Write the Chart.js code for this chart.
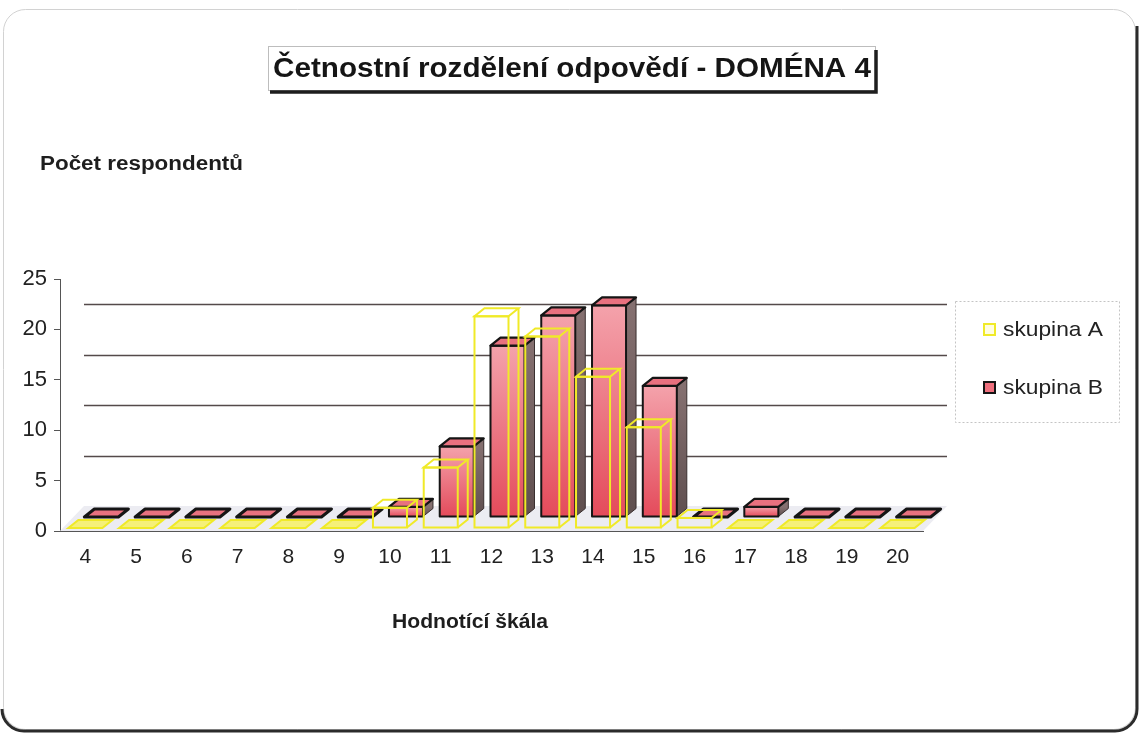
<!DOCTYPE html>
<html>
<head>
<meta charset="utf-8">
<script src="https://cdn.jsdelivr.net/npm/chart.js@4.4.1/dist/chart.umd.min.js"></script>
<style>
  html, body { margin: 0; padding: 0; background: #fff; overflow: hidden; }
  canvas { display: block; }
</style>
</head>
<body>
<canvas id="chart" width="1141" height="734"></canvas>
<script>
// Score categories on the rating scale
const categories = ['4', '5', '6', '7', '8', '9', '10', '11', '12', '13', '14', '15', '16', '17', '18', '19', '20'];
// Number of respondents per score
const skupinaA = [0, 0, 0, 0, 0, 0, 2, 6, 21, 19, 15, 10, 1, 0, 0, 0, 0];
const skupinaB = [0, 0, 0, 0, 0, 0, 1, 7, 17, 20, 21, 13, 0, 1, 0, 0, 0];
const yTicks = [0, 5, 10, 15, 20, 25];
const seriesNames = ['skupina A', 'skupina B'];
const titleText = 'Četnostní rozdělení odpovědí - DOMÉNA 4';
const yTitleText = 'Počet respondentů';
const xTitleText = 'Hodnotící škála';

const FONT = '"Liberation Sans", Arial, Helvetica, sans-serif';

// Draws text squeezed/stretched horizontally to a given width
function fitText(ctx, text, x, y, font, width, align, color) {
  ctx.save();
  ctx.font = font;
  ctx.fillStyle = color;
  ctx.textBaseline = 'middle';
  ctx.textAlign = 'left';
  const w = ctx.measureText(text).width;
  const s = width / w;
  const left = align === 'center' ? x - width / 2 : x;
  ctx.translate(left, y);
  ctx.scale(s, 1);
  ctx.fillText(text, 0, 0);
  ctx.restore();
}

function poly(ctx, pts) {
  ctx.beginPath();
  ctx.moveTo(pts[0][0], pts[0][1]);
  for (let i = 1; i < pts.length; i++) ctx.lineTo(pts[i][0], pts[i][1]);
  ctx.closePath();
}

// Pseudo-3D columns: floor, back-wall gridlines, solid and wireframe boxes
const bars3d = {
  id: 'bars3d',
  beforeDatasetsDraw(chart, args, o) {
    const { ctx, chartArea: a, scales: { y } } = chart;
    const y0 = y.getPixelForValue(0);
    const W = o.wall, D = o.depth;
    ctx.save();

    // floor
    ctx.fillStyle = o.floorColor;
    poly(ctx, [[a.left, y0], [a.right, y0], [a.right + W.dx, y0 + W.dy], [a.left + W.dx, y0 + W.dy]]);
    ctx.fill();

    // gridlines on the back wall
    ctx.strokeStyle = o.gridColor;
    ctx.lineWidth = 1.4;
    y.ticks.forEach(t => {
      if (t.value <= 0 || t.value >= y.max) return;
      const py = Math.round(y.getPixelForValue(t.value) + W.dy) + 0.5;
      ctx.beginPath();
      ctx.moveTo(a.left + W.dx, py);
      ctx.lineTo(a.right + W.dx, py);
      ctx.stroke();
    });

    // back row first, then the front row
    for (let di = chart.data.datasets.length - 1; di >= 0; di--) {
      const meta = chart.getDatasetMeta(di);
      const ds = chart.data.datasets[di];
      const row = o.rows[di];
      meta.data.forEach((el, j) => {
        const v = ds.data[j];
        const w = el.width;
        const x0 = el.x - w / 2 + row.dx;
        const x1 = x0 + w;
        const yb = el.base + row.dy;
        const yt = el.y + row.dy;
        const top = [[x0, yt], [x1, yt], [x1 + D.dx, yt + D.dy], [x0 + D.dx, yt + D.dy]];
        if (row.solid) {
          if (v > 0) {
            // side face
            const sg = ctx.createLinearGradient(0, yt, 0, yb);
            sg.addColorStop(0, o.sideTop);
            sg.addColorStop(1, o.sideBottom);
            ctx.fillStyle = sg;
            poly(ctx, [[x1, yt], [x1 + D.dx, yt + D.dy], [x1 + D.dx, yb + D.dy], [x1, yb]]);
            ctx.fill();
            ctx.strokeStyle = '#3a3030';
            ctx.lineWidth = 1;
            ctx.stroke();
            // front face
            const fg = ctx.createLinearGradient(0, yt, 0, yb);
            fg.addColorStop(0, o.frontTop);
            fg.addColorStop(1, o.frontBottom);
            ctx.fillStyle = fg;
            ctx.fillRect(x0, yt, w, yb - yt);
            ctx.strokeStyle = ds.borderColor;
            ctx.lineWidth = 2;
            ctx.strokeRect(x0, yt, w, yb - yt);
          }
          // top face
          ctx.fillStyle = o.topColor;
          poly(ctx, top);
          ctx.fill();
          ctx.strokeStyle = ds.borderColor;
          ctx.lineWidth = v > 0 ? 2.2 : 3;
          ctx.lineJoin = 'round';
          ctx.stroke();
        } else {
          ctx.strokeStyle = ds.borderColor;
          ctx.lineWidth = 2;
          ctx.lineJoin = 'miter';
          if (v > 0) {
            ctx.strokeRect(x0, yt, w, yb - yt);
            poly(ctx, top);
            ctx.stroke();
            ctx.beginPath();
            ctx.moveTo(x1 + D.dx, yt + D.dy);
            ctx.lineTo(x1 + D.dx, yb + D.dy);
            ctx.lineTo(x1, yb);
            ctx.stroke();
          } else {
            ctx.fillStyle = ds.backgroundColor;
            poly(ctx, top);
            ctx.fill();
            ctx.stroke();
          }
        }
      });
    }
    ctx.restore();
    return false;
  }
};

// Frame, title box, axis titles and legend
const decor = {
  id: 'decor',
  beforeDraw(chart) {
    const ctx = chart.ctx;
    ctx.save();
    ctx.fillStyle = '#fff';
    ctx.fillRect(0, 0, chart.width, chart.height);
    // outer frame
    ctx.strokeStyle = '#d2d2d2';
    ctx.lineWidth = 1;
    ctx.beginPath();
    ctx.roundRect(3.5, 9.5, 1132, 720, 22);
    ctx.stroke();
    ctx.strokeStyle = '#2b2b2b';
    ctx.lineWidth = 3;
    ctx.beginPath();
    ctx.moveTo(1137, 26);
    ctx.lineTo(1137, 708);
    ctx.arcTo(1137, 731, 1114, 731, 22);
    ctx.lineTo(24, 731);
    ctx.arcTo(2, 731, 2, 709, 22);
    ctx.stroke();
    ctx.restore();
  },
  afterDraw(chart) {
    const ctx = chart.ctx;
    ctx.save();
    // title box with shadow
    ctx.strokeStyle = '#bdbdbd';
    ctx.lineWidth = 1;
    ctx.strokeRect(268.5, 46.5, 607, 44);
    ctx.strokeStyle = '#1e1e1e';
    ctx.lineWidth = 3.5;
    ctx.beginPath();
    ctx.moveTo(876, 50);
    ctx.lineTo(876, 92);
    ctx.lineTo(270, 92);
    ctx.stroke();
    fitText(ctx, titleText, 572, 69, 'bold 28px ' + FONT, 598, 'center', '#151515');

    // axis titles
    fitText(ctx, yTitleText, 40, 164, 'bold 20px ' + FONT, 203, 'left', '#1e1e1e');
    fitText(ctx, xTitleText, 470, 622, 'bold 20px ' + FONT, 156, 'center', '#1e1e1e');

    // legend
    ctx.strokeStyle = '#c4c4c4';
    ctx.lineWidth = 1;
    ctx.setLineDash([2, 2]);
    ctx.strokeRect(955.5, 301.5, 164, 121);
    ctx.setLineDash([]);
    const ds = chart.data.datasets;
    const ys = [330, 388];
    ds.forEach((d, i) => {
      const sx = 984, sy = ys[i] - 6;
      ctx.fillStyle = i === 0 ? '#fffde0' : d.backgroundColor;
      ctx.fillRect(sx, sy, 11, 11);
      ctx.strokeStyle = d.borderColor;
      ctx.lineWidth = 2;
      ctx.strokeRect(sx, sy, 11, 11);
      fitText(ctx, d.label, 1003, ys[i], '21px ' + FONT, 100, 'left', '#222');
    });
    ctx.restore();
  }
};

new Chart(document.getElementById('chart').getContext('2d'), {
  type: 'bar',
  data: {
    labels: categories,
    datasets: [
      {
        label: seriesNames[0], data: skupinaA,
        backgroundColor: '#f5f07a', borderColor: '#f0ea28', borderWidth: 2,
        grouped: false, categoryPercentage: 1, barPercentage: 0.67
      },
      {
        label: seriesNames[1], data: skupinaB,
        backgroundColor: '#ee6f7d', borderColor: '#151515', borderWidth: 2,
        grouped: false, categoryPercentage: 1, barPercentage: 0.67
      }
    ]
  },
  options: {
    responsive: false,
    animation: false,
    devicePixelRatio: 1,
    layout: { padding: { left: 0, top: 279, right: 218, bottom: 0 } },
    plugins: {
      legend: { display: false },
      tooltip: { enabled: false },
      title: { display: false },
      bars3d: {
        rows: [{ dx: 0, dy: -3, solid: false }, { dx: 16, dy: -14, solid: true }],
        depth: { dx: 10, dy: -8 },
        wall: { dx: 24, dy: -25 },
        floorColor: '#ececf2',
        gridColor: '#544a4a',
        frontTop: '#f4a2ab',
        frontBottom: '#e44b5b',
        sideTop: '#857070',
        sideBottom: '#5f4f4f',
        topColor: '#e8717f'
      }
    },
    scales: {
      x: {
        grid: { display: false, drawTicks: false },
        border: { display: true, color: '#555', dash: [3, 2], width: 1 },
        ticks: { font: { family: FONT, size: 21 }, color: '#222', padding: 14 },
        afterFit: s => { s.height = 203; }
      },
      y: {
        min: 0, max: 25,
        afterBuildTicks: s => { s.ticks = yTicks.map(v => ({ value: v })); },
        ticks: { font: { family: FONT, size: 22 }, color: '#222', padding: 7 },
        grid: { drawOnChartArea: false, drawTicks: true, tickLength: 6, color: '#555' },
        border: { display: true, color: '#555', dash: [2, 2], width: 1 },
        afterFit: s => { s.width = 60; }
      }
    }
  },
  plugins: [decor, bars3d]
});
</script>
</body>
</html>
